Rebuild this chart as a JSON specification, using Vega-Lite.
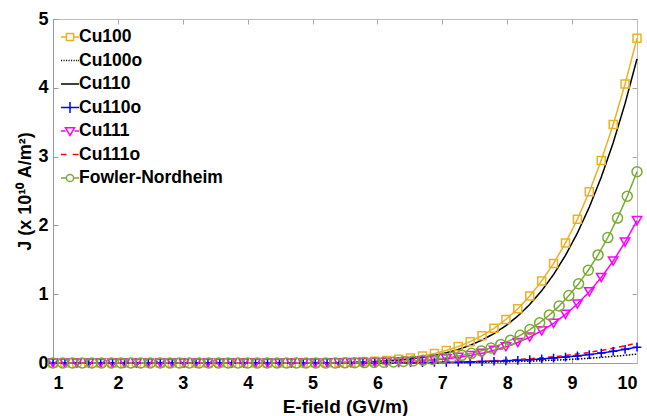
{
 "$schema": "https://vega.github.io/schema/vega-lite/v6.json",
 "width": 584,
 "height": 344,
 "autosize": {"type": "none"},
 "padding": {"left": 53, "top": 19, "right": 10, "bottom": 53},
 "background": "white",
 "config": {
  "view": {"stroke": "#bdbdbd", "strokeWidth": 1},
  "font": "Liberation Sans",
  "legend": {
   "labelFont": "Liberation Sans", "labelFontSize": 17.5, "labelFontWeight": "bold", "labelColor": "black",
   "symbolSize": 324, "symbolStrokeWidth": 1.5, "rowPadding": 4.5, "padding": 0, "labelOffset": -1, "title": null
  }
 },
 "datasets": {
  "d": [
   {"s":"Cu100","x":1,"y":0},{"s":"Cu100","x":1.184,"y":0},{"s":"Cu100","x":1.367,"y":0},{"s":"Cu100","x":1.551,"y":0},{"s":"Cu100","x":1.735,"y":0},{"s":"Cu100","x":1.918,"y":0},{"s":"Cu100","x":2.102,"y":0},{"s":"Cu100","x":2.286,"y":0},{"s":"Cu100","x":2.469,"y":0},{"s":"Cu100","x":2.653,"y":0},{"s":"Cu100","x":2.837,"y":0},{"s":"Cu100","x":3.02,"y":0},{"s":"Cu100","x":3.204,"y":0},{"s":"Cu100","x":3.388,"y":0},{"s":"Cu100","x":3.571,"y":0},{"s":"Cu100","x":3.755,"y":0},{"s":"Cu100","x":3.939,"y":0},{"s":"Cu100","x":4.122,"y":0},{"s":"Cu100","x":4.306,"y":0},{"s":"Cu100","x":4.49,"y":0.0005},{"s":"Cu100","x":4.673,"y":0.0009},{"s":"Cu100","x":4.857,"y":0.0017},{"s":"Cu100","x":5.041,"y":0.0028},{"s":"Cu100","x":5.224,"y":0.0047},{"s":"Cu100","x":5.408,"y":0.0075},{"s":"Cu100","x":5.592,"y":0.0116},{"s":"Cu100","x":5.776,"y":0.0175},{"s":"Cu100","x":5.959,"y":0.0259},{"s":"Cu100","x":6.143,"y":0.0375},{"s":"Cu100","x":6.327,"y":0.0532},{"s":"Cu100","x":6.51,"y":0.074},{"s":"Cu100","x":6.694,"y":0.1014},{"s":"Cu100","x":6.878,"y":0.1369},{"s":"Cu100","x":7.061,"y":0.1819},{"s":"Cu100","x":7.245,"y":0.239},{"s":"Cu100","x":7.429,"y":0.31},{"s":"Cu100","x":7.612,"y":0.3974},{"s":"Cu100","x":7.796,"y":0.5041},{"s":"Cu100","x":7.98,"y":0.6337},{"s":"Cu100","x":8.163,"y":0.7881},{"s":"Cu100","x":8.347,"y":0.973},{"s":"Cu100","x":8.531,"y":1.191},{"s":"Cu100","x":8.714,"y":1.446},{"s":"Cu100","x":8.898,"y":1.745},{"s":"Cu100","x":9.082,"y":2.091},{"s":"Cu100","x":9.265,"y":2.488},{"s":"Cu100","x":9.449,"y":2.945},{"s":"Cu100","x":9.633,"y":3.465},{"s":"Cu100","x":9.816,"y":4.054},{"s":"Cu100","x":10,"y":4.72},

   {"s":"Cu100o","x":1,"y":0},{"s":"Cu100o","x":5.592,"y":0},{"s":"Cu100o","x":5.776,"y":0.0005},{"s":"Cu100o","x":5.959,"y":0.0008},{"s":"Cu100o","x":6.143,"y":0.0011},{"s":"Cu100o","x":6.327,"y":0.0016},{"s":"Cu100o","x":6.51,"y":0.0022},{"s":"Cu100o","x":6.694,"y":0.003},{"s":"Cu100o","x":6.878,"y":0.004},{"s":"Cu100o","x":7.061,"y":0.0053},{"s":"Cu100o","x":7.245,"y":0.0069},{"s":"Cu100o","x":7.429,"y":0.009},{"s":"Cu100o","x":7.612,"y":0.0115},{"s":"Cu100o","x":7.796,"y":0.0145},{"s":"Cu100o","x":7.98,"y":0.0181},{"s":"Cu100o","x":8.163,"y":0.0224},{"s":"Cu100o","x":8.347,"y":0.0276},{"s":"Cu100o","x":8.531,"y":0.0337},{"s":"Cu100o","x":8.714,"y":0.0407},{"s":"Cu100o","x":8.898,"y":0.0489},{"s":"Cu100o","x":9.082,"y":0.0584},{"s":"Cu100o","x":9.265,"y":0.0693},{"s":"Cu100o","x":9.449,"y":0.0818},{"s":"Cu100o","x":9.633,"y":0.0959},{"s":"Cu100o","x":9.816,"y":0.1119},{"s":"Cu100o","x":10,"y":0.13},

   {"s":"Cu110","x":1,"y":0},{"s":"Cu110","x":4.673,"y":0},{"s":"Cu110","x":4.857,"y":0.0011},{"s":"Cu110","x":5.041,"y":0.0019},{"s":"Cu110","x":5.224,"y":0.0032},{"s":"Cu110","x":5.408,"y":0.0052},{"s":"Cu110","x":5.592,"y":0.0082},{"s":"Cu110","x":5.776,"y":0.0127},{"s":"Cu110","x":5.959,"y":0.0191},{"s":"Cu110","x":6.143,"y":0.0282},{"s":"Cu110","x":6.327,"y":0.0407},{"s":"Cu110","x":6.51,"y":0.0574},{"s":"Cu110","x":6.694,"y":0.0799},{"s":"Cu110","x":6.878,"y":0.1094},{"s":"Cu110","x":7.061,"y":0.1474},{"s":"Cu110","x":7.245,"y":0.1959},{"s":"Cu110","x":7.429,"y":0.2571},{"s":"Cu110","x":7.612,"y":0.3334},{"s":"Cu110","x":7.796,"y":0.4276},{"s":"Cu110","x":7.98,"y":0.5433},{"s":"Cu110","x":8.163,"y":0.6824},{"s":"Cu110","x":8.347,"y":0.8502},{"s":"Cu110","x":8.531,"y":1.0507},{"s":"Cu110","x":8.714,"y":1.286},{"s":"Cu110","x":8.898,"y":1.565},{"s":"Cu110","x":9.082,"y":1.89},{"s":"Cu110","x":9.265,"y":2.266},{"s":"Cu110","x":9.449,"y":2.701},{"s":"Cu110","x":9.633,"y":3.201},{"s":"Cu110","x":9.816,"y":3.771},{"s":"Cu110","x":10,"y":4.42},

   {"s":"Cu110o","x":1,"y":0},{"s":"Cu110o","x":1.184,"y":0},{"s":"Cu110o","x":1.367,"y":0},{"s":"Cu110o","x":1.551,"y":0},{"s":"Cu110o","x":1.735,"y":0},{"s":"Cu110o","x":1.918,"y":0},{"s":"Cu110o","x":2.102,"y":0},{"s":"Cu110o","x":2.286,"y":0},{"s":"Cu110o","x":2.469,"y":0},{"s":"Cu110o","x":2.653,"y":0},{"s":"Cu110o","x":2.837,"y":0},{"s":"Cu110o","x":3.02,"y":0},{"s":"Cu110o","x":3.204,"y":0},{"s":"Cu110o","x":3.388,"y":0},{"s":"Cu110o","x":3.571,"y":0},{"s":"Cu110o","x":3.755,"y":0},{"s":"Cu110o","x":3.939,"y":0},{"s":"Cu110o","x":4.122,"y":0},{"s":"Cu110o","x":4.306,"y":0},{"s":"Cu110o","x":4.49,"y":0},{"s":"Cu110o","x":4.673,"y":0},{"s":"Cu110o","x":4.857,"y":0},{"s":"Cu110o","x":5.041,"y":0},{"s":"Cu110o","x":5.224,"y":0},{"s":"Cu110o","x":5.408,"y":0},{"s":"Cu110o","x":5.592,"y":0},{"s":"Cu110o","x":5.776,"y":0.001},{"s":"Cu110o","x":5.959,"y":0.0014},{"s":"Cu110o","x":6.143,"y":0.002},{"s":"Cu110o","x":6.327,"y":0.0028},{"s":"Cu110o","x":6.51,"y":0.0039},{"s":"Cu110o","x":6.694,"y":0.0053},{"s":"Cu110o","x":6.878,"y":0.0071},{"s":"Cu110o","x":7.061,"y":0.0094},{"s":"Cu110o","x":7.245,"y":0.0123},{"s":"Cu110o","x":7.429,"y":0.0159},{"s":"Cu110o","x":7.612,"y":0.0203},{"s":"Cu110o","x":7.796,"y":0.0256},{"s":"Cu110o","x":7.98,"y":0.0321},{"s":"Cu110o","x":8.163,"y":0.0397},{"s":"Cu110o","x":8.347,"y":0.0488},{"s":"Cu110o","x":8.531,"y":0.0596},{"s":"Cu110o","x":8.714,"y":0.072},{"s":"Cu110o","x":8.898,"y":0.0866},{"s":"Cu110o","x":9.082,"y":0.1034},{"s":"Cu110o","x":9.265,"y":0.1227},{"s":"Cu110o","x":9.449,"y":0.1447},{"s":"Cu110o","x":9.633,"y":0.1698},{"s":"Cu110o","x":9.816,"y":0.1981},{"s":"Cu110o","x":10,"y":0.23},

   {"s":"Cu111","x":1,"y":0},{"s":"Cu111","x":1.184,"y":0},{"s":"Cu111","x":1.367,"y":0},{"s":"Cu111","x":1.551,"y":0},{"s":"Cu111","x":1.735,"y":0},{"s":"Cu111","x":1.918,"y":0},{"s":"Cu111","x":2.102,"y":0},{"s":"Cu111","x":2.286,"y":0},{"s":"Cu111","x":2.469,"y":0},{"s":"Cu111","x":2.653,"y":0},{"s":"Cu111","x":2.837,"y":0},{"s":"Cu111","x":3.02,"y":0},{"s":"Cu111","x":3.204,"y":0},{"s":"Cu111","x":3.388,"y":0},{"s":"Cu111","x":3.571,"y":0},{"s":"Cu111","x":3.755,"y":0},{"s":"Cu111","x":3.939,"y":0},{"s":"Cu111","x":4.122,"y":0},{"s":"Cu111","x":4.306,"y":0},{"s":"Cu111","x":4.49,"y":0},{"s":"Cu111","x":4.673,"y":0},{"s":"Cu111","x":4.857,"y":0},{"s":"Cu111","x":5.041,"y":0.0005},{"s":"Cu111","x":5.224,"y":0.001},{"s":"Cu111","x":5.408,"y":0.0019},{"s":"Cu111","x":5.592,"y":0.003},{"s":"Cu111","x":5.776,"y":0.0048},{"s":"Cu111","x":5.959,"y":0.0073},{"s":"Cu111","x":6.143,"y":0.0109},{"s":"Cu111","x":6.327,"y":0.016},{"s":"Cu111","x":6.51,"y":0.0229},{"s":"Cu111","x":6.694,"y":0.0323},{"s":"Cu111","x":6.878,"y":0.0447},{"s":"Cu111","x":7.061,"y":0.0609},{"s":"Cu111","x":7.245,"y":0.0818},{"s":"Cu111","x":7.429,"y":0.1086},{"s":"Cu111","x":7.612,"y":0.1421},{"s":"Cu111","x":7.796,"y":0.1841},{"s":"Cu111","x":7.98,"y":0.2358},{"s":"Cu111","x":8.163,"y":0.2986},{"s":"Cu111","x":8.347,"y":0.3754},{"s":"Cu111","x":8.531,"y":0.4672},{"s":"Cu111","x":8.714,"y":0.5761},{"s":"Cu111","x":8.898,"y":0.7062},{"s":"Cu111","x":9.082,"y":0.8584},{"s":"Cu111","x":9.265,"y":1.0363},{"s":"Cu111","x":9.449,"y":1.2432},{"s":"Cu111","x":9.633,"y":1.4823},{"s":"Cu111","x":9.816,"y":1.7563},{"s":"Cu111","x":10,"y":2.07},

   {"s":"Cu111o","x":1,"y":0},{"s":"Cu111o","x":5.592,"y":0},{"s":"Cu111o","x":5.776,"y":0.0012},{"s":"Cu111o","x":5.959,"y":0.0018},{"s":"Cu111o","x":6.143,"y":0.0025},{"s":"Cu111o","x":6.327,"y":0.0035},{"s":"Cu111o","x":6.51,"y":0.0049},{"s":"Cu111o","x":6.694,"y":0.0067},{"s":"Cu111o","x":6.878,"y":0.0089},{"s":"Cu111o","x":7.061,"y":0.0118},{"s":"Cu111o","x":7.245,"y":0.0155},{"s":"Cu111o","x":7.429,"y":0.02},{"s":"Cu111o","x":7.612,"y":0.0256},{"s":"Cu111o","x":7.796,"y":0.0323},{"s":"Cu111o","x":7.98,"y":0.0404},{"s":"Cu111o","x":8.163,"y":0.05},{"s":"Cu111o","x":8.347,"y":0.0615},{"s":"Cu111o","x":8.531,"y":0.0751},{"s":"Cu111o","x":8.714,"y":0.0907},{"s":"Cu111o","x":8.898,"y":0.1091},{"s":"Cu111o","x":9.082,"y":0.1303},{"s":"Cu111o","x":9.265,"y":0.1546},{"s":"Cu111o","x":9.449,"y":0.1823},{"s":"Cu111o","x":9.633,"y":0.2139},{"s":"Cu111o","x":9.816,"y":0.2496},{"s":"Cu111o","x":10,"y":0.29},

   {"s":"Fowler-Nordheim","x":1,"y":0},{"s":"Fowler-Nordheim","x":1.15,"y":0},{"s":"Fowler-Nordheim","x":1.3,"y":0},{"s":"Fowler-Nordheim","x":1.45,"y":0},{"s":"Fowler-Nordheim","x":1.6,"y":0},{"s":"Fowler-Nordheim","x":1.75,"y":0},{"s":"Fowler-Nordheim","x":1.9,"y":0},{"s":"Fowler-Nordheim","x":2.05,"y":0},{"s":"Fowler-Nordheim","x":2.2,"y":0},{"s":"Fowler-Nordheim","x":2.35,"y":0},{"s":"Fowler-Nordheim","x":2.5,"y":0},{"s":"Fowler-Nordheim","x":2.65,"y":0},{"s":"Fowler-Nordheim","x":2.8,"y":0},{"s":"Fowler-Nordheim","x":2.95,"y":0},{"s":"Fowler-Nordheim","x":3.1,"y":0},{"s":"Fowler-Nordheim","x":3.25,"y":0},{"s":"Fowler-Nordheim","x":3.4,"y":0},{"s":"Fowler-Nordheim","x":3.55,"y":0},{"s":"Fowler-Nordheim","x":3.7,"y":0},{"s":"Fowler-Nordheim","x":3.85,"y":0},{"s":"Fowler-Nordheim","x":4,"y":0},{"s":"Fowler-Nordheim","x":4.15,"y":0},{"s":"Fowler-Nordheim","x":4.3,"y":0},{"s":"Fowler-Nordheim","x":4.45,"y":0},{"s":"Fowler-Nordheim","x":4.6,"y":0},{"s":"Fowler-Nordheim","x":4.75,"y":0},{"s":"Fowler-Nordheim","x":4.9,"y":0},{"s":"Fowler-Nordheim","x":5.05,"y":0},{"s":"Fowler-Nordheim","x":5.2,"y":0.0012},{"s":"Fowler-Nordheim","x":5.35,"y":0.0018},{"s":"Fowler-Nordheim","x":5.5,"y":0.0027},{"s":"Fowler-Nordheim","x":5.65,"y":0.0041},{"s":"Fowler-Nordheim","x":5.8,"y":0.0059},{"s":"Fowler-Nordheim","x":5.95,"y":0.0084},{"s":"Fowler-Nordheim","x":6.1,"y":0.0118},{"s":"Fowler-Nordheim","x":6.25,"y":0.0163},{"s":"Fowler-Nordheim","x":6.4,"y":0.0222},{"s":"Fowler-Nordheim","x":6.55,"y":0.0299},{"s":"Fowler-Nordheim","x":6.7,"y":0.0397},{"s":"Fowler-Nordheim","x":6.85,"y":0.0522},{"s":"Fowler-Nordheim","x":7,"y":0.0678},{"s":"Fowler-Nordheim","x":7.15,"y":0.0873},{"s":"Fowler-Nordheim","x":7.3,"y":0.1112},{"s":"Fowler-Nordheim","x":7.45,"y":0.1405},{"s":"Fowler-Nordheim","x":7.6,"y":0.1761},{"s":"Fowler-Nordheim","x":7.75,"y":0.2188},{"s":"Fowler-Nordheim","x":7.9,"y":0.2698},{"s":"Fowler-Nordheim","x":8.05,"y":0.3306},{"s":"Fowler-Nordheim","x":8.2,"y":0.4021},{"s":"Fowler-Nordheim","x":8.35,"y":0.4861},{"s":"Fowler-Nordheim","x":8.5,"y":0.5839},{"s":"Fowler-Nordheim","x":8.65,"y":0.6977},{"s":"Fowler-Nordheim","x":8.8,"y":0.8288},{"s":"Fowler-Nordheim","x":8.95,"y":0.9796},{"s":"Fowler-Nordheim","x":9.1,"y":1.152},{"s":"Fowler-Nordheim","x":9.25,"y":1.3484},{"s":"Fowler-Nordheim","x":9.4,"y":1.5714},{"s":"Fowler-Nordheim","x":9.55,"y":1.8232},{"s":"Fowler-Nordheim","x":9.7,"y":2.1064},{"s":"Fowler-Nordheim","x":9.85,"y":2.4245},{"s":"Fowler-Nordheim","x":10,"y":2.78}
  ]
 },
 "data": {"name": "d"},
 "layer": [
  {
   "mark": {"type": "line"},
   "encoding": {
    "x": {"field": "x", "type": "quantitative", "scale": {"domain": [1, 10], "nice": false},
     "axis": {"values": [1,2,3,4,5,6,7,8,9,10], "format": "d", "grid": false, "title": "E-field (GV/m)",
      "labelFont": "Liberation Sans", "labelFontSize": 18, "labelFontWeight": "bold", "labelColor": "black",
      "tickSize": -5, "tickColor": "#999999", "domainColor": "#999999", "labelPadding": 16,
      "titleFont": "Liberation Sans", "titleFontSize": 19, "titleFontWeight": "bold", "titleColor": "black", "titlePadding": 5}},
    "y": {"field": "y", "type": "quantitative", "scale": {"domain": [0, 5], "nice": false},
     "axis": {"values": [0,1,2,3,4,5], "format": "d", "grid": false, "title": "J (x 10¹⁰ A/m²)",
      "labelFont": "Liberation Sans", "labelFontSize": 18, "labelFontWeight": "bold", "labelColor": "black",
      "tickSize": -5, "tickColor": "#999999", "domainColor": "#999999", "labelPadding": 10,
      "titleFont": "Liberation Sans", "titleFontSize": 18, "titleFontWeight": "bold", "titleColor": "black", "titlePadding": 3}},
    "detail": {"field": "s"},
    "color": {"field": "s", "type": "nominal", "legend": null,
     "scale": {"domain": ["Cu100","Cu100o","Cu110","Cu110o","Cu111","Cu111o","Fowler-Nordheim"],
               "range": ["#EDB120","#000000","#000000","#0000FF","#FF00FF","#FF0000","#77AC30"]}},
    "strokeDash": {"field": "s", "type": "nominal", "legend": null,
     "scale": {"domain": ["Cu100","Cu100o","Cu110","Cu110o","Cu111","Cu111o","Fowler-Nordheim"],
               "range": [[1,0],[1.5,1.5],[1,0],[1,0],[1,0],[5,4],[1,0]]}},
    "strokeWidth": {"field": "s", "type": "nominal", "legend": null,
     "scale": {"domain": ["Cu100","Cu100o","Cu110","Cu110o","Cu111","Cu111o","Fowler-Nordheim"],
               "range": [1.5,1.5,2,1.6,1.3,1.5,1.3]}}
   }
  },
  {
   "transform": [{"filter": {"field": "s", "oneOf": ["Cu100","Cu110o","Cu111","Fowler-Nordheim"]}}],
   "mark": {"type": "point", "filled": false, "strokeWidth": 1.5, "opacity": 1},
   "encoding": {
    "x": {"field": "x", "type": "quantitative",
     "axis": {"orient": "top", "values": [1,2,3,4,5,6,7,8,9,10], "labels": false, "title": null, "grid": false,
      "tickSize": -5, "tickColor": "#aaaaaa", "domainColor": "#bdbdbd"}},
    "y": {"field": "y", "type": "quantitative",
     "axis": {"orient": "right", "values": [0,1,2,3,4,5], "labels": false, "title": null, "grid": false,
      "tickSize": -5, "tickColor": "#aaaaaa", "domainColor": "#bdbdbd"}},
    "color": {"field": "s", "type": "nominal", "legend": null,
     "scale": {"domain": ["Cu100","Cu110o","Cu111","Fowler-Nordheim"], "range": ["#EDB120","#0000FF","#FF00FF","#77AC30"]}},
    "shape": {"field": "s", "type": "nominal", "legend": null,
     "scale": {"domain": ["Cu100","Cu110o","Cu111","Fowler-Nordheim"], "range": ["square","M-1,0H1M0,-1V1","triangle-down","circle"]}},
    "size": {"field": "s", "type": "nominal", "legend": null,
     "scale": {"domain": ["Cu100","Cu110o","Cu111","Fowler-Nordheim"], "range": [64, 100, 95, 52]}}
   }
  },
  {
   "transform": [{"filter": "datum.x > 100"}],
   "mark": {"type": "point", "filled": false, "opacity": 1},
   "encoding": {
    "x": {"field": "x", "type": "quantitative", "axis": null},
    "y": {"field": "y", "type": "quantitative", "axis": null},
    "color": {"field": "s", "type": "nominal",
     "scale": {"domain": ["Cu100","Cu100o","Cu110","Cu110o","Cu111","Cu111o","Fowler-Nordheim"],
               "range": ["#EDB120","#000000","#000000","#0000FF","#FF00FF","#FF0000","#77AC30"]},
     "legend": {"orient": "none", "legendX": 7, "legendY": 8, "title": null}},
    "shape": {"field": "s", "type": "nominal",
     "scale": {"domain": ["Cu100","Cu100o","Cu110","Cu110o","Cu111","Cu111o","Fowler-Nordheim"],
               "range": [
                "M-1,0H-0.4M0.4,0H1M-0.4,-0.4H0.4V0.4H-0.4Z",
                "M-1,0H-0.88M-0.72,0H-0.6M-0.44,0H-0.32M-0.16,0H-0.04M0.12,0H0.24M0.4,0H0.52M0.68,0H0.8M0.92,0H1",
                "M-1,0H1",
                "M-1,0H1M0,-0.6V0.6",
                "M-1,0H-0.5M0.5,0H1M-0.5,-0.35H0.5L0,0.5Z",
                "M-1,0H-0.4M0.3,0H0.95",
                "M-1,0H-0.4M0.4,0H1M0.4,0A0.4,0.4 0 1,1 -0.4,0A0.4,0.4 0 1,1 0.4,0Z"
               ]},
     "legend": {"orient": "none", "legendX": 7, "legendY": 8, "title": null}}
   }
  }
 ],
 "resolve": {"scale": {"color": "independent", "shape": "independent", "size": "independent"}, "axis": {"x": "independent", "y": "independent"}}
}
